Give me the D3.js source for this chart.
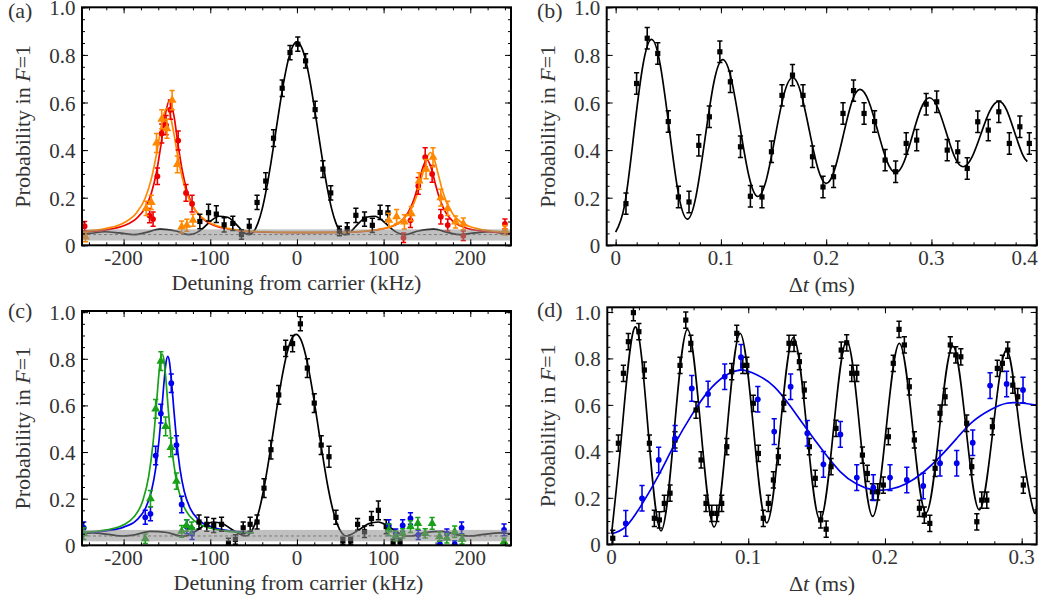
<!DOCTYPE html>
<html><head><meta charset="utf-8">
<script src="https://cdn.jsdelivr.net/npm/d3@7"></script>
<style>body{margin:0;background:#fff}</style>
</head><body>
<svg id="c" width="1043" height="601"></svg>
<script>
// ---------------- DATA ----------------
// Panel (a): detuning (kHz), probability, error
const aBlack = [[-112,0.100,0.030],[-102,0.137,0.035],[-93,0.131,0.035],[-84,0.086,0.030],[-74,0.092,0.030],[-64,0.045,0.020],[-55,0.080,0.030],[-46,0.180,0.030],[-36,0.270,0.035],[-27,0.450,0.035],[-17,0.660,0.035],[-8,0.810,0.030],[1,0.845,0.030],[10,0.775,0.030],[21,0.570,0.035],[30,0.320,0.035],[39,0.220,0.030],[49,0.060,0.020],[58,0.070,0.025],[68,0.126,0.030],[78,0.110,0.030],[87,0.084,0.030],[96,0.138,0.030],[105,0.136,0.030]];
const aRed = [[-245,0.080,0.020],[-170,0.125,0.030],[-166,0.110,0.030],[-161,0.290,0.035],[-156,0.470,0.040],[-151,0.505,0.040],[-146,0.570,0.040],[-137,0.440,0.040],[-128,0.220,0.035],[-121,0.175,0.035],[123,0.032,0.020],[131,0.105,0.030],[140,0.250,0.035],[148,0.370,0.040],[156,0.300,0.035],[166,0.120,0.030],[174,0.085,0.025],[192,0.040,0.020],[240,0.090,0.020]];
const aOrange = [[-244,0.035,0.020],[-174,0.155,0.030],[-168,0.180,0.030],[-162,0.430,0.040],[-156,0.530,0.040],[-150,0.490,0.040],[-144,0.610,0.040],[-138,0.340,0.035],[-133,0.077,0.025],[-127,0.084,0.025],[-120,0.105,0.025],[106,0.105,0.030],[115,0.120,0.030],[124,0.098,0.030],[132,0.133,0.030],[141,0.270,0.035],[149,0.320,0.040],[157,0.370,0.040],[166,0.200,0.035],[174,0.155,0.030],[183,0.098,0.025],[192,0.090,0.025],[240,0.063,0.020]];
const aBlackFit = [[-248,0.047],[-240,0.049],[-222,0.057],[-205,0.052],[-188,0.045],[-175,0.053],[-158,0.068],[-140,0.060],[-125,0.045],[-120,0.047],[-110,0.067],[-100,0.100],[-90,0.122],[-80,0.118],[-70,0.088],[-60,0.051],[-55,0.045],[-50,0.057],[-45,0.093],[-40,0.154],[-35,0.240],[-30,0.346],[-25,0.463],[-20,0.582],[-15,0.691],[-10,0.779],[-5,0.835],[0,0.855],[5,0.835],[10,0.779],[15,0.691],[20,0.582],[25,0.463],[30,0.346],[35,0.240],[40,0.154],[45,0.093],[50,0.057],[55,0.045],[60,0.051],[70,0.088],[80,0.118],[90,0.122],[100,0.100],[110,0.067],[120,0.047],[125,0.045],[140,0.060],[158,0.068],[175,0.053],[188,0.045],[205,0.052],[222,0.057],[240,0.049],[247,0.047]];
const aRedFit = [[-248,0.056],[-220,0.065],[-200,0.082],[-185,0.113],[-175,0.158],[-168,0.219],[-162,0.308],[-157,0.419],[-152,0.546],[-147,0.610],[-142,0.546],[-137,0.419],[-132,0.308],[-127,0.231],[-120,0.164],[-110,0.116],[-100,0.091],[-80,0.069],[-50,0.057],[0,0.053],[50,0.054],[80,0.059],[100,0.070],[110,0.080],[120,0.101],[128,0.136],[135,0.192],[140,0.254],[145,0.324],[150,0.360],[155,0.324],[160,0.254],[165,0.192],[172,0.136],[180,0.101],[195,0.073],[215,0.059],[247,0.051]];
const aOrangeFit = [[-248,0.059],[-220,0.071],[-200,0.094],[-185,0.137],[-175,0.199],[-168,0.279],[-162,0.384],[-157,0.490],[-152,0.567],[-150,0.575],[-147,0.557],[-142,0.469],[-137,0.364],[-132,0.279],[-127,0.218],[-120,0.162],[-110,0.118],[-100,0.094],[-80,0.071],[-50,0.058],[0,0.054],[50,0.054],[80,0.060],[100,0.070],[110,0.081],[120,0.101],[128,0.131],[135,0.177],[140,0.229],[145,0.299],[150,0.367],[154,0.390],[158,0.367],[163,0.299],[168,0.229],[173,0.177],[180,0.131],[188,0.101],[198,0.081],[215,0.065],[247,0.054]];
const aBand = [0.020, 0.067, 0.045];

// Panel (b): delay (ms), probability
const bPts = [[0.0098,0.175],[0.0199,0.68],[0.030,0.87],[0.040,0.806],[0.050,0.52],[0.0596,0.203],[0.0697,0.182],[0.079,0.42],[0.089,0.54],[0.099,0.813],[0.109,0.687],[0.1186,0.414],[0.128,0.206],[0.139,0.203],[0.148,0.393],[0.158,0.63],[0.168,0.715],[0.178,0.63],[0.187,0.372],[0.197,0.245],[0.207,0.288],[0.216,0.554],[0.226,0.65],[0.236,0.554],[0.246,0.52],[0.256,0.358],[0.266,0.309],[0.276,0.428],[0.286,0.442],[0.295,0.593],[0.305,0.603],[0.315,0.40],[0.325,0.393],[0.334,0.323],[0.344,0.519],[0.354,0.484],[0.364,0.561],[0.374,0.428],[0.384,0.498],[0.393,0.428]];
const bErr = 0.045;
const bFit = [[0,0.055],[0.0085,0.169],[0.017,0.4575],[0.0255,0.746],[0.034,0.865],[0.0425,0.755],[0.051,0.4875],[0.0595,0.22],[0.068,0.11],[0.0764,0.208],[0.0848,0.445],[0.0932,0.682],[0.1016,0.78],[0.11,0.696],[0.1183,0.4925],[0.1267,0.289],[0.135,0.205],[0.1433,0.278],[0.1515,0.455],[0.1598,0.632],[0.168,0.705],[0.176,0.64],[0.184,0.4825],[0.192,0.325],[0.2,0.26],[0.208,0.318],[0.216,0.4575],[0.224,0.597],[0.232,0.655],[0.2405,0.604],[0.249,0.48],[0.2575,0.356],[0.266,0.305],[0.274,0.351],[0.282,0.4625],[0.29,0.574],[0.298,0.62],[0.306,0.578],[0.314,0.475],[0.322,0.372],[0.33,0.33],[0.3385,0.37],[0.347,0.4675],[0.3555,0.565],[0.364,0.605],[0.3715,0.568],[0.379,0.475],[0.3865,0.382],[0.391,0.352]];

// Panel (c): detuning (kHz), probability, error
const cBlack = [[-113,0.100,0.030],[-104,0.090,0.030],[-96,0.085,0.030],[-87,0.090,0.030],[-79,0.010,0.020],[-71,0.025,0.020],[-62,0.075,0.025],[-54,0.090,0.030],[-46,0.100,0.030],[-38,0.245,0.040],[-30,0.410,0.040],[-21,0.645,0.040],[-13,0.845,0.035],[-5,0.865,0.035],[4,0.950,0.030],[12,0.760,0.040],[20,0.610,0.040],[28,0.430,0.040],[37,0.380,0.045],[45,0.120,0.030],[53,0.020,0.015],[62,0.020,0.015],[70,0.090,0.025],[78,0.058,0.025],[86,0.115,0.030],[94,0.150,0.040],[103,0.080,0.030],[111,0.011,0.015],[119,0.015,0.015]];
const cBlue = [[-246,0.075,0.025],[-175,0.120,0.030],[-169,0.135,0.030],[-163,0.385,0.040],[-157,0.565,0.040],[-145,0.695,0.040],[-139,0.430,0.040],[-133,0.175,0.035],[-127,0.080,0.030],[-121,0.050,0.025],[106,0.085,0.025],[114,0.050,0.020],[122,0.085,0.025],[131,0.115,0.025],[140,0.045,0.020],[165,0.005,0.015],[173,0.050,0.020],[182,0.005,0.015],[190,0.075,0.025],[239,0.066,0.025]];
const cGreen = [[-246,0.050,0.025],[-175,0.028,0.020],[-169,0.200,0.035],[-163,0.585,0.040],[-157,0.790,0.040],[-151.5,0.510,0.040],[-145.5,0.420,0.040],[-139,0.275,0.035],[-133,0.060,0.025],[-127.5,0.085,0.025],[-121.5,0.075,0.025],[106,0.066,0.025],[114,0.040,0.020],[122,0.051,0.020],[131,0.080,0.025],[139.5,0.094,0.025],[148,0.051,0.020],[156,0.094,0.025],[164.5,0.037,0.020],[173,0.030,0.020],[182,0.058,0.025],[190.5,0.026,0.020],[239,0.015,0.015]];
const cBlackFit = [[-248,0.050],[-236,0.053],[-218,0.047],[-200,0.040],[-187,0.045],[-169,0.060],[-150,0.055],[-134,0.040],[-129,0.040],[-118,0.058],[-107,0.085],[-97,0.100],[-86,0.093],[-76,0.070],[-65,0.046],[-59,0.040],[-53.8,0.053],[-48.5,0.091],[-43.2,0.156],[-37.9,0.248],[-32.7,0.361],[-27.4,0.486],[-22.1,0.614],[-16.8,0.730],[-11.5,0.824],[-6.3,0.884],[-1,0.905],[4.3,0.884],[9.5,0.824],[14.8,0.730],[20.1,0.614],[25.4,0.486],[30.7,0.361],[35.9,0.248],[41.2,0.156],[46.5,0.091],[51.8,0.053],[57,0.040],[62.3,0.046],[73,0.070],[83,0.093],[94,0.100],[104,0.085],[115,0.058],[126,0.040],[132,0.040],[148,0.055],[167,0.060],[185,0.045],[198,0.040],[216,0.047],[234,0.053],[247,0.048]];
const cBlueFit = [[-248,0.054],[-220,0.062],[-200,0.078],[-185,0.108],[-175,0.157],[-168,0.231],[-163,0.329],[-159,0.455],[-156,0.581],[-153,0.714],[-151,0.785],[-149,0.810],[-147,0.785],[-145,0.714],[-142,0.581],[-139,0.455],[-135,0.329],[-130,0.231],[-123,0.157],[-113,0.108],[-98,0.078],[-78,0.062],[-50,0.054]];
const cGreenFit = [[-248,0.055],[-220,0.066],[-200,0.088],[-188,0.122],[-178,0.190],[-171,0.297],[-166,0.439],[-162.5,0.585],[-159.5,0.725],[-157.5,0.795],[-155.5,0.820],[-153.5,0.795],[-151.5,0.725],[-148.5,0.585],[-145,0.439],[-140,0.297],[-133,0.190],[-123,0.122],[-111,0.088],[-91,0.066],[-63,0.055],[-50,0.053]];
const cBand = [0.017, 0.066, 0.040];

// Panel (d): delay (ms), probability
const dBlack = [[0.0009,0.026],[0.005,0.435],[0.0087,0.736],[0.0123,0.872],[0.016,0.997],[0.020,0.915],[0.024,0.75],[0.0277,0.435],[0.0313,0.112],[0.035,0.105],[0.0386,0.176],[0.0428,0.22],[0.0464,0.449],[0.0501,0.77],[0.0543,0.965],[0.058,0.865],[0.0618,0.578],[0.0655,0.363],[0.0691,0.176],[0.0733,0.133],[0.077,0.133],[0.0806,0.176],[0.0843,0.42],[0.0879,0.743],[0.0916,0.908],[0.096,0.77],[0.099,0.77],[0.1037,0.607],[0.1074,0.391],[0.111,0.112],[0.1147,0.176],[0.1184,0.277],[0.122,0.377],[0.126,0.607],[0.1298,0.865],[0.1335,0.865],[0.1374,0.786],[0.141,0.664],[0.1447,0.42],[0.149,0.284],[0.153,0.105],[0.157,0.065],[0.1606,0.334],[0.1642,0.499],[0.168,0.836],[0.172,0.867],[0.1757,0.736],[0.1794,0.736],[0.1835,0.384],[0.1871,0.305],[0.1908,0.226],[0.1947,0.226],[0.1988,0.255],[0.2025,0.463],[0.2061,0.779],[0.2103,0.925],[0.2142,0.858],[0.2178,0.678],[0.2215,0.449],[0.2252,0.155],[0.2288,0.126],[0.2328,0.09],[0.2367,0.327],[0.2403,0.564],[0.244,0.635],[0.2478,0.858],[0.2518,0.815],[0.2555,0.807],[0.2598,0.521],[0.2635,0.334],[0.2672,0.097],[0.2708,0.19],[0.2745,0.19],[0.2786,0.506],[0.2822,0.757],[0.2859,0.779],[0.2898,0.836],[0.2935,0.685],[0.2971,0.635],[0.3012,0.255]];
const dBlackErr = 0.035;
const dBlue = [[0.0104,0.09],[0.0223,0.198],[0.0345,0.363],[0.0465,0.456],[0.0587,0.671],[0.0706,0.647],[0.0828,0.721],[0.0947,0.805],[0.107,0.624],[0.119,0.485],[0.131,0.678],[0.1432,0.478],[0.155,0.344],[0.1674,0.473],[0.1794,0.287],[0.1915,0.244],[0.2037,0.287],[0.216,0.277],[0.228,0.251],[0.2403,0.349],[0.2525,0.349],[0.2642,0.437],[0.2769,0.683],[0.289,0.69],[0.301,0.664]];
const dBlueErr = 0.055;
const dBlackFit = [[0,0.045],[0.0075,0.48],[0.0172,0.935],[0.0267,0.4965],[0.0362,0.058],[0.0459,0.4915],[0.0555,0.925],[0.0653,0.50],[0.075,0.075],[0.0845,0.4915],[0.094,0.908],[0.1038,0.50],[0.1135,0.092],[0.1233,0.491],[0.133,0.89],[0.1428,0.4975],[0.1525,0.105],[0.1623,0.4905],[0.172,0.876],[0.1815,0.498],[0.191,0.12],[0.2008,0.4925],[0.2105,0.865],[0.2203,0.50],[0.23,0.135],[0.2398,0.494],[0.2496,0.853],[0.2593,0.5005],[0.269,0.148],[0.279,0.492],[0.289,0.836],[0.2985,0.498],[0.308,0.16],[0.311,0.168]];
const dBlueFit = [[0,0.045],[0.0104,0.076],[0.0223,0.173],[0.0345,0.298],[0.0465,0.434],[0.0586,0.556],[0.0706,0.657],[0.0828,0.724],[0.0947,0.75],[0.1069,0.728],[0.1191,0.678],[0.1311,0.592],[0.1433,0.492],[0.1552,0.398],[0.1674,0.312],[0.1793,0.259],[0.1915,0.234],[0.2037,0.237],[0.2159,0.262],[0.2281,0.31],[0.2403,0.377],[0.2525,0.456],[0.2642,0.528],[0.2769,0.578],[0.2891,0.607],[0.301,0.607],[0.311,0.599]];

// Tick values
const detMajor = [-200,-100,0,100,200];
const detMinor = d3.range(-240,241,20);
const probMajor = [0,0.2,0.4,0.6,0.8,1.0];
const probMinor = d3.range(0,1.001,0.05);
const bMajor = [0,0.1,0.2,0.3,0.4];
const bMinor = d3.range(0,0.401,0.02);
const dMajor = [0,0.1,0.2,0.3];
const dMinor = d3.range(0,0.311,0.02);

// ---------------- DRAWING ----------------
const FONT = "Liberation Serif";
const svg = d3.select("#c");
const TXT = "#333";

function fmtProb(d){ return d===0 ? "0" : d3.format(".1f")(d); }
function fmtDet(d){ return d<0 ? "-"+Math.abs(d) : String(d); }
function fmtT(d){ return d===0 ? "0" : d3.format(".1f")(d); }

function drawPoints(g, pts, sx, sy, shape, color, errDefault){
  const gg = g.append("g");
  pts.forEach(p=>{
    const e = p.length>2 ? p[2] : errDefault;
    const x = sx(p[0]), y = sy(p[1]);
    const ya = sy(p[1]-e), yb = sy(p[1]+e);
    gg.append("line").attr("x1",x).attr("x2",x).attr("y1",ya).attr("y2",yb)
      .attr("stroke",color).attr("stroke-width",1.6);
    [ya,yb].forEach(yy=>gg.append("line").attr("x1",x-2.6).attr("x2",x+2.6).attr("y1",yy).attr("y2",yy)
      .attr("stroke",color).attr("stroke-width",1.5));
    if(shape==="square"){
      gg.append("rect").attr("x",x-2.6).attr("y",y-2.6).attr("width",5.2).attr("height",5.2).attr("fill",color);
    } else if(shape==="circle"){
      gg.append("circle").attr("cx",x).attr("cy",y).attr("r",2.9).attr("fill",color);
    } else {
      gg.append("path").attr("d",d3.symbol(d3.symbolTriangle).size(34)()).attr("transform",`translate(${x},${y})`).attr("fill",color);
    }
  });
}

// axis: draw tick lines with d3 axis, labels as plain svg texts placed from the scale
function panel(o){
  const sx = d3.scaleLinear().domain(o.xd).range([o.x0,o.x1]);
  const sy = d3.scaleLinear().domain(o.yd).range([o.y1,o.y0]);
  const g = svg.append("g");
  const cid = "clip"+o.id;
  svg.append("clipPath").attr("id",cid).append("rect")
    .attr("x",o.x0).attr("y",o.y0).attr("width",o.x1-o.x0).attr("height",o.y1-o.y0);
  const pg = g.append("g").attr("clip-path",`url(#${cid})`);
  o.curves.forEach(c=>{
    pg.append("path").datum(c.data)
      .attr("d", d3.line().x(d=>sx(d[0])).y(d=>sy(d[1])).curve(c.curve))
      .attr("fill","none").attr("stroke",c.color).attr("stroke-width",1.7);
  });
  o.series.forEach(s=>drawPoints(pg, s.data, sx, sy, s.shape, s.color, s.err));
  if(o.band){
    pg.append("rect").attr("x",o.x0).attr("width",o.x1-o.x0)
      .attr("y",sy(o.band[1])).attr("height",sy(o.band[0])-sy(o.band[1]))
      .attr("fill","#8c8c8c").attr("fill-opacity",0.55);
    pg.append("line").attr("x1",o.x0).attr("x2",o.x1).attr("y1",sy(o.band[2])).attr("y2",sy(o.band[2]))
      .attr("stroke","#6a6a6a").attr("stroke-width",0.8).attr("stroke-dasharray","3,2.5");
  }
  function ticksOnly(sel){
    sel.select(".domain").remove();
    sel.selectAll("text").remove();
    sel.attr("font-family",null).attr("font-size",null);
    sel.selectAll("line").attr("stroke","#000").attr("stroke-width",1);
  }
  g.append("g").attr("transform",`translate(0,${o.y1})`).call(d3.axisBottom(sx).tickValues(o.xMajor).tickSize(-6)).call(ticksOnly);
  g.append("g").attr("transform",`translate(0,${o.y1})`).call(d3.axisBottom(sx).tickValues(o.xMinor).tickSize(-3)).call(ticksOnly);
  g.append("g").attr("transform",`translate(0,${o.y0})`).call(d3.axisTop(sx).tickValues(o.xMajor).tickSize(-6)).call(ticksOnly);
  g.append("g").attr("transform",`translate(0,${o.y0})`).call(d3.axisTop(sx).tickValues(o.xMinor).tickSize(-3)).call(ticksOnly);
  g.append("g").attr("transform",`translate(${o.x0},0)`).call(d3.axisLeft(sy).tickValues(probMajor).tickSize(-6)).call(ticksOnly);
  g.append("g").attr("transform",`translate(${o.x0},0)`).call(d3.axisLeft(sy).tickValues(probMinor).tickSize(-3)).call(ticksOnly);
  g.append("g").attr("transform",`translate(${o.x1},0)`).call(d3.axisRight(sy).tickValues(probMajor).tickSize(-6)).call(ticksOnly);
  g.append("g").attr("transform",`translate(${o.x1},0)`).call(d3.axisRight(sy).tickValues(probMinor).tickSize(-3)).call(ticksOnly);
  // tick labels as plain texts
  o.xMajor.forEach((v,i)=>{
    const last = i===o.xMajor.length-1;
    svg.append("text").attr("x",sx(v)+(last&&o.lastShift?o.lastShift:0)).attr("y",o.y1+20)
      .attr("text-anchor","middle").attr("font-size",21).attr("font-family",FONT).attr("fill",TXT).text(o.xFmt(v));
  });
  probMajor.forEach(v=>{
    svg.append("text").attr("x",o.x0-6.5).attr("y",sy(v)+8)
      .attr("text-anchor","end").attr("font-size",21).attr("font-family",FONT).attr("fill",TXT).text(fmtProb(v));
  });
  g.append("rect").attr("x",o.x0).attr("y",o.y0).attr("width",o.x1-o.x0).attr("height",o.y1-o.y0)
    .attr("fill","none").attr("stroke","#000").attr("stroke-width",2);
  const yt = svg.append("text").attr("transform",`translate(${o.ytx},${(o.y0+o.y1)/2}) rotate(-90)`)
    .attr("text-anchor","middle").attr("font-size",22).attr("font-family",FONT).attr("fill",TXT);
  yt.append("tspan").text("Probability in ");
  yt.append("tspan").attr("font-style","italic").text("F");
  yt.append("tspan").text("=1");
  const xt = svg.append("text").attr("x",(o.x0+o.x1)/2+o.xtdx).attr("y",o.y1+o.xty)
    .attr("text-anchor","middle").attr("font-size",22).attr("font-family",FONT).attr("fill",TXT);
  if(o.xTitle==="det"){ xt.text("Detuning from carrier (kHz)"); }
  else { xt.append("tspan").text("\u0394"); xt.append("tspan").attr("font-style","italic").text("t"); xt.append("tspan").text(" (ms)"); }
  svg.append("text").attr("x",o.lx).attr("y",o.ly).attr("font-size",22).attr("font-family",FONT).attr("fill",TXT).text(o.label);
}

const mono = d3.curveMonotoneX, nat = d3.curveNatural;

panel({id:"a", x0:82, x1:511, y0:7.3, y1:245.3, xd:[-248,247], yd:[0,1.0],
  xMajor:detMajor, xMinor:detMinor, xFmt:fmtDet, xTitle:"det", xtdx:0, xty:45, ytx:30, lx:8, ly:18, label:"(a)",
  curves:[{data:aBlackFit,color:"#000",curve:mono},{data:aRedFit,color:"#ee0000",curve:mono},{data:aOrangeFit,color:"#ff8800",curve:mono}],
  series:[{data:aBlack,shape:"square",color:"#000"},{data:aRed,shape:"circle",color:"#ee0000"},{data:aOrange,shape:"tri",color:"#ff8800"}],
  band:aBand});

panel({id:"b", x0:606.7, x1:1036.7, y0:7.3, y1:245.3, xd:[-0.0085,0.4], yd:[0,1.0],
  xMajor:bMajor, xMinor:bMinor, xFmt:fmtT, xTitle:"dt", xtdx:0, xty:47, ytx:555, lx:537, ly:18, label:"(b)", lastShift:-12,
  curves:[{data:bFit,color:"#000",curve:nat}],
  series:[{data:bPts,shape:"square",color:"#000",err:bErr}]});

panel({id:"c", x0:82, x1:511, y0:311, y1:545.3, xd:[-248,247], yd:[0,1.005],
  xMajor:detMajor, xMinor:detMinor, xFmt:fmtDet, xTitle:"det", xtdx:2, xty:45, ytx:30, lx:8, ly:318, label:"(c)",
  curves:[{data:cBlackFit,color:"#000",curve:mono},{data:cBlueFit,color:"#0000ee",curve:mono},{data:cGreenFit,color:"#18a018",curve:mono}],
  series:[{data:cBlack,shape:"square",color:"#000"},{data:cBlue,shape:"circle",color:"#0000ee"},{data:cGreen,shape:"tri",color:"#18a018"}],
  band:cBand});

panel({id:"d", x0:607.3, x1:1036.7, y0:307.3, y1:544.3, xd:[-0.0031,0.311], yd:[0,1.02],
  xMajor:dMajor, xMinor:dMinor, xFmt:fmtT, xTitle:"dt", xtdx:0, xty:47, ytx:555, lx:537, ly:317, label:"(d)",
  curves:[{data:dBlackFit,color:"#000",curve:nat},{data:dBlueFit,color:"#0000ee",curve:nat}],
  series:[{data:dBlack,shape:"square",color:"#000",err:dBlackErr},{data:dBlue,shape:"circle",color:"#0000ee",err:dBlueErr}]});
</script>
</body></html>
